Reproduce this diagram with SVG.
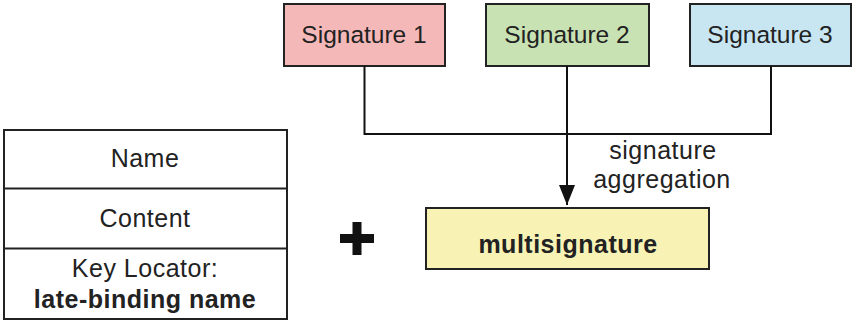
<svg xmlns="http://www.w3.org/2000/svg" width="855" height="320" viewBox="0 0 855 320">
<style>
  .box { stroke: #222; stroke-width: 2; }
  .t { font-family: "Liberation Sans", Arial, Helvetica, sans-serif; font-size: 25px; letter-spacing: 0.5px; fill: #222; text-anchor: middle; }
  .s { font-size: 24.5px; letter-spacing: 0; }
  .b { font-weight: bold; }
  .conn { fill: none; stroke: #111; stroke-width: 2; }
</style>
<defs>
  <marker id="arrow" markerWidth="20" markerHeight="16" refX="20" refY="8" orient="auto" markerUnits="userSpaceOnUse" viewBox="0 0 20 16">
    <path d="M0,0 L20,8 L0,16 Z" fill="#111"/>
  </marker>
</defs>
<rect width="855" height="320" fill="#fff"/>

<g id="sig1">
  <rect class="box" x="284" y="4" width="161" height="62" fill="#f5b8b8"/>
  <text class="t s" x="364" y="43">Signature 1</text>
</g>
<g id="sig2">
  <rect class="box" x="486" y="4" width="163" height="62" fill="#c8e2b3"/>
  <text class="t s" x="567" y="43">Signature 2</text>
</g>
<g id="sig3">
  <rect class="box" x="690" y="4" width="161" height="62" fill="#c8e6f2"/>
  <text class="t s" x="770" y="43">Signature 3</text>
</g>

<g id="connectors">
  <path class="conn" d="M364.5,66 V134 H771 V66"/>
  <path class="conn" d="M567,66 V205" marker-end="url(#arrow)"/>
</g>

<g id="agg-label">
  <text class="t" x="663" y="159">signature</text>
  <text class="t" x="662" y="188">aggregation</text>
</g>

<g id="multisig">
  <rect class="box" x="426" y="208" width="283" height="61" fill="#f8f3b5"/>
  <text class="t b" x="568" y="253">multisignature</text>
</g>

<g id="plus">
  <rect x="340" y="234" width="34" height="9" fill="#111"/>
  <rect x="352.5" y="222" width="9" height="33" fill="#111"/>
</g>

<g id="packet">
  <rect class="box" x="4" y="130" width="283" height="189" fill="#fff"/>
  <line class="box" x1="4" y1="188.5" x2="287" y2="188.5"/>
  <line class="box" x1="4" y1="248.5" x2="287" y2="248.5"/>
  <text class="t" x="145" y="167">Name</text>
  <text class="t" x="145" y="227">Content</text>
  <text class="t" x="145" y="277">Key Locator:</text>
  <text class="t b" x="145" y="308">late-binding name</text>
</g>
</svg>
